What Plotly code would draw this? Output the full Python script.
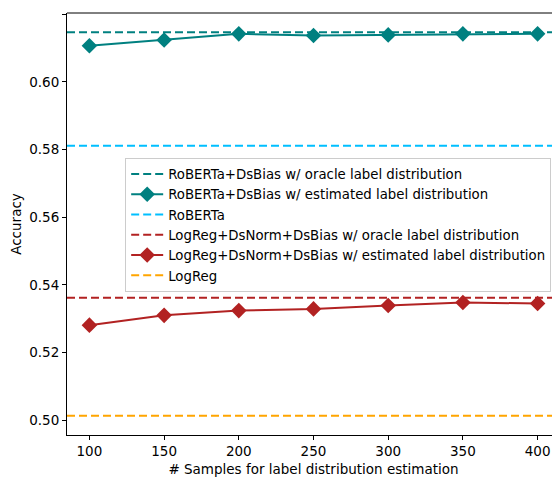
import plotly.graph_objects as go

samples = [100, 150, 200, 250, 300, 350, 400]
roberta_dsbias_est = [0.6107, 0.6124, 0.6142, 0.6137, 0.6139, 0.6142, 0.6142]
logreg_dsbias_est = [0.5281, 0.5310, 0.5324, 0.5329, 0.5339, 0.5348, 0.5345]
roberta_dsbias_oracle = 0.6147
roberta_base = 0.5811
logreg_dsbias_oracle = 0.5362
logreg_base = 0.5013

x_ticks = [100, 150, 200, 250, 300, 350, 400]
y_ticks = [0.50, 0.52, 0.54, 0.56, 0.58, 0.60, 0.62]

span = max(samples) - min(samples)
x_lo = min(samples) - 0.05 * span
x_hi = max(samples) + 0.05 * span
all_y = roberta_dsbias_est + logreg_dsbias_est + [roberta_dsbias_oracle, roberta_base, logreg_dsbias_oracle, logreg_base]
yspan = max(all_y) - min(all_y)
y_lo = min(all_y) - 0.05 * yspan
y_hi = max(all_y) + 0.05 * yspan

FONT = "DejaVu Sans"
dash = "8px,4px"

fig = go.Figure()

def hline(val, color, name):
    fig.add_trace(go.Scatter(x=[x_lo, x_hi], y=[val, val], mode="lines", name=name,
                             line=dict(color=color, width=2, dash=dash)))

def est(vals, color, name):
    fig.add_trace(go.Scatter(x=samples, y=vals, mode="lines+markers", name=name,
                             line=dict(color=color, width=2),
                             marker=dict(symbol="diamond", size=12, color=color)))

hline(roberta_dsbias_oracle, "#008080", "RoBERTa+DsBias w/ oracle label distribution")
est(roberta_dsbias_est, "#008080", "RoBERTa+DsBias w/ estimated label distribution")
hline(roberta_base, "#00BFFF", "RoBERTa")
hline(logreg_dsbias_oracle, "#B22222", "LogReg+DsNorm+DsBias w/ oracle label distribution")
est(logreg_dsbias_est, "#B22222", "LogReg+DsNorm+DsBias w/ estimated label distribution")
hline(logreg_base, "#FFA500", "LogReg")

fig.update_layout(
    width=552, height=469,
    margin=dict(l=59, r=0, t=5, b=42),
    paper_bgcolor="white", plot_bgcolor="white",
    font=dict(family=FONT, size=13, color="black"),
    legend=dict(x=0.118, y=0.657, xanchor="left", yanchor="top",
                bgcolor="rgba(255,255,255,0.8)", bordercolor="#cccccc", borderwidth=1,
                font=dict(size=13.3), itemwidth=32, tracegroupgap=0),
    showlegend=True,
)
fig.update_xaxes(range=[x_lo, x_hi], tickvals=x_ticks, ticks="outside", ticklen=4,
                 tickcolor="black", showgrid=False, zeroline=False, showline=True,
                 linecolor="black", linewidth=1,
                 title=dict(text="# Samples for label distribution estimation", font=dict(size=13.5), standoff=6),
                 tickfont=dict(size=13.5))
fig.update_yaxes(range=[y_lo, y_hi], tickvals=y_ticks, tickformat=".2f", ticks="outside", ticklen=4,
                 tickcolor="black", showgrid=False, zeroline=False, showline=True,
                 linecolor="black", linewidth=1,
                 title=dict(text="Accuracy", font=dict(size=13.5), standoff=5),
                 tickfont=dict(size=13.5))
fig.add_shape(type="line", xref="paper", yref="paper", x0=0, x1=1, y0=1, y1=1,
              line=dict(color="black", width=1))

fig.write_html("out.html")
